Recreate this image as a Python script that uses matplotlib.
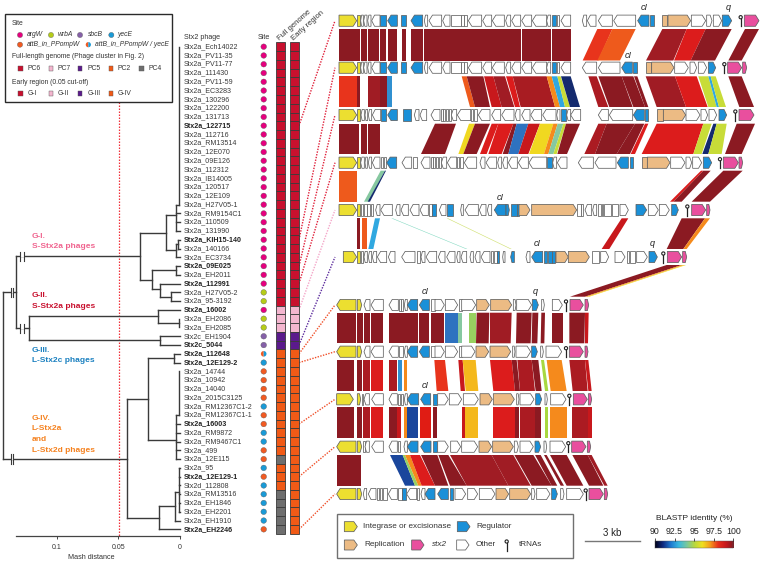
import matplotlib
matplotlib.use("Agg")
import matplotlib.pyplot as plt
import numpy as np
from matplotlib.patches import Polygon, Rectangle, Circle, Wedge
from matplotlib.colors import LinearSegmentedColormap

plt.rcParams['font.family'] = ['Liberation Sans', 'DejaVu Sans']

phages = ["Stx2a_Ech14022","Stx2a_PV11-35","Stx2a_PV11-77","Stx2a_111430","Stx2a_PV11-59","Stx2a_EC3283",
"Stx2a_130296","Stx2a_122200","Stx2a_131713","Stx2a_122715","Stx2a_112716","Stx2a_RM13514","Stx2a_12E070",
"Stx2a_09E126","Stx2a_112312","Stx2a_IB14005","Stx2a_120517","Stx2a_12E109","Stx2a_H27V05-1","Stx2a_RM9154C1",
"Stx2a_110509","Stx2a_131990","Stx2a_KIH15-140","Stx2a_140166","Stx2a_EC3734","Stx2a_09E025","Stx2a_EH2011",
"Stx2a_112991","Stx2a_H27V05-2","Stx2a_95-3192","Stx2a_16002","Stx2a_EH2086","Stx2a_EH2085","Stx2c_EH1904",
"Stx2c_5044","Stx2a_112648","Stx2a_12E129-2","Stx2a_14744","Stx2a_10942","Stx2a_14040","Stx2a_2015C3125",
"Stx2a_RM12367C1-2","Stx2a_RM12367C1-1","Stx2a_16003","Stx2a_RM9872","Stx2a_RM9467C1","Stx2a_499","Stx2a_12E115",
"Stx2a_95","Stx2a_12E129-1","Stx2d_112808","Stx2a_RM13516","Stx2a_EH1846","Stx2a_EH2201","Stx2a_EH1910","Stx2a_EH2246"]
bold = ["Stx2a_122715","Stx2a_KIH15-140","Stx2a_09E025","Stx2a_112991","Stx2a_16002","Stx2c_5044","Stx2a_112648",
"Stx2a_12E129-2","Stx2a_16003","Stx2a_12E129-1","Stx2a_EH2246"]
sites = "a"*28 + "ww" + "a" + "ww" + "ss" + "dy" + "oooo" + "y" + "oo" + "yy" + "oo" + "yoy" + "yyyy" + "oy"
full_genome = "6"*30 + "777" + "55" + "2"*12 + "4" + "222" + "44444"
early_region = "I"*30 + "JJJ" + "KK" + "L"*21

site_col = {'a':'#e6007e','w':'#b5cc18','s':'#8560a8','y':'#1a9ad6','o':'#f15a22'}
clust_col = {'6':'#c8102e','7':'#f4b6cf','5':'#5b1a8c','2':'#f15a16','4':'#6e6e6e','I':'#c8102e','J':'#f4b6cf','K':'#5b1a8c','L':'#f15a16'}

# tree: horizontal (row, d0, d1) and vertical (d, row0, row1)
tree_h = [(48,.1436,.0434),(29,.1436,.1333),(24.9,.1333,.0325),(33.1,.1333,.1225),
 (41.2,.0434,.0257),(54.7,.0434,.0168),(36.5,.0257,.0049),(45.8,.0257,.0035),(36,.0049,0),(37,.0049,0),
 (43,.0035,.0005),(47,.0035,0),(44,.0035,0),(45,.0035,0),(46,.0035,0),(48,.0035,0),
 (56,.0168,0),(53.3,.0168,.0041),(55,.0041,0),(51.7,.0041,.0005),(49,.0005,0),(50,.0005,0),(51,.0005,0),(52,.0005,0),(53,.0005,0),(54,.0005,0),
 (22.2,.0325,.0114),(27.6,.0325,.0230),(26.4,.0230,.0035),(26,.0035,0),(27,.0035,0),(28.6,.0230,.0163),(28,.0163,0),(29.5,.0163,.0076),(29,.0076,0),(30,.0076,0),
 (20.2,.0114,.0035),(24.2,.0114,.0035),(25,.0035,0),(23.5,.0035,.0014),(23,.0014,0),(24,.0014,0),(20,.0035,0),(21,.0035,0),(22,.0035,0),(19,.0035,.0005),
 (31.7,.1225,.0176),(34.4,.1225,.0163),(31,.0176,0),(32.5,.0176,.0005),(34,.0163,0),(35,.0163,0)]
tree_v = [(.1436,29,48),(.1333,24.9,33.1),(.0434,41.2,54.7),(.0257,36.5,45.8),(.0049,36,37),(.0035,43,48),(.0005,38,43),
 (.0168,53.3,56),(.0041,51.7,55),(.0005,49,54),(.0325,22.2,27.6),(.0230,26.4,28.6),(.0035,26,27),(.0163,28,29.5),(.0076,29,30),
 (.0114,20.2,24.2),(.0035,23.5,25),(.0014,23,24),(.0035,19,22),(.0005,1,19),(.1225,31.7,34.4),(.0176,31,32.5),(.0005,32,33),(.0163,34,35)]
tree_breaks = [(48,.1378,.1360),(29,.1378,.1360),(24.9,.1300,.1270),(33.1,.1300,.1270)]

# gene tracks: (start, end, direction, type)
g_common = [(57,110,1,'i'),(112,119,0,'i'),(122,130,-1,'o'),(131,141,-1,'o'),(143,153,-1,'o'),(155,180,-1,'o'),(181,199,0,'b'),(203,232,-1,'b'),
 (244,257,0,'b'),(273,308,-1,'b'),(313,323,-1,'o'),(327,365,-1,'o'),(368,390,-1,'o'),(392,422,0,'o'),(424,431,0,'o'),(433,441,0,'o'),(445,485,-1,'o'),
 (488,515,-1,'o'),(517,553,-1,'o'),(557,572,-1,'o'),(575,602,-1,'o'),(605,635,-1,'o'),(637,680,-1,'o'),(680,692,-1,'o'),(695,708,0,'b'),(710,718,0,'o'),(723,752,-1,'o')]
t1 = g_common + [(787,800,-1,'o'),(802,828,-1,'o'),(835,877,-1,'o'),(881,947,-1,'o'),(953,987,-1,'b'),(990,1002,0,'b'),(1027,1042,0,'r'),(1044,1112,1,'r'),
 (1114,1157,1,'o'),(1160,1176,1,'o'),(1180,1205,1,'o'),(1207,1235,1,'b'),(1273,1317,1,'s')]
t2 = g_common + [(787,830,-1,'o'),(835,900,-1,'o'),(905,937,-1,'b'),(940,952,0,'b'),(977,993,0,'r'),(995,1062,1,'r'),(1064,1105,1,'o'),(1110,1130,1,'o'),
 (1135,1160,1,'o'),(1165,1187,1,'b'),(1223,1265,1,'s'),(1268,1280,1,'s')]
t3 = [(57,110,1,'i'),(112,119,0,'i'),(123,133,-1,'o'),(135,143,-1,'o'),(145,155,-1,'o'),(157,182,-1,'o'),(182,199,0,'b'),(203,232,-1,'b'),(248,272,0,'b'),
 (283,297,-1,'o'),(300,320,-1,'o'),(333,360,-1,'o'),(362,368,0,'o'),(370,376,0,'o'),(378,384,0,'o'),(386,392,0,'o'),(394,410,-1,'o'),(412,452,-1,'o'),(454,460,0,'o'),
 (462,472,0,'o'),(475,510,-1,'o'),(515,542,-1,'o'),(545,582,-1,'o'),(585,600,-1,'o'),(605,630,-1,'o'),(632,665,-1,'o'),(668,708,-1,'o'),(710,720,-1,'o'),(723,738,0,'b'),(740,752,-1,'o'),(752,782,-1,'o'),
 (835,865,-1,'o'),(868,938,-1,'o'),(940,973,-1,'b'),(975,985,0,'b'),(1010,1028,0,'r'),(1030,1097,1,'r'),(1098,1140,1,'o'),(1143,1163,1,'o'),(1167,1190,1,'o'),(1197,1220,1,'b'),(1257,1302,1,'s')]
t4 = [(57,110,1,'i'),(112,119,0,'i'),(122,133,-1,'o'),(135,142,-1,'o'),(145,155,-1,'o'),(157,180,-1,'o'),(182,190,0,'o'),(192,198,0,'o'),(200,230,-1,'b'),(246,275,-1,'o'),(278,290,0,'o'),
 (303,330,-1,'o'),(332,338,0,'o'),(340,346,0,'o'),(348,354,0,'o'),(356,362,0,'o'),(364,380,-1,'o'),(382,410,-1,'o'),(412,418,0,'o'),(420,430,0,'o'),(433,470,-1,'o'),
 (480,495,-1,'o'),(498,530,-1,'o'),(533,545,-1,'o'),(548,562,-1,'o'),(565,592,-1,'o'),(595,625,-1,'o'),(627,680,-1,'o'),(682,696,0,'b'),(698,710,-1,'o'),(712,741,-1,'o'),
 (775,820,-1,'o'),(825,888,-1,'o'),(892,925,-1,'b'),(930,940,0,'b'),(965,980,0,'r'),(982,1050,1,'r'),(1052,1095,1,'o'),(1098,1115,1,'o'),(1118,1145,1,'o'),(1150,1175,1,'b'),(1210,1255,1,'s'),(1257,1268,1,'s')]
t5 = [(57,110,1,'i'),(112,119,0,'i'),(123,130,0,'o'),(132,140,0,'o'),(142,150,0,'o'),(152,160,0,'o'),(167,180,-1,'o'),(182,217,-1,'o'),(227,240,-1,'o'),(243,265,-1,'o'),(270,297,-1,'o'),(300,325,-1,'o'),
 (327,335,0,'o'),(337,347,0,'b'),(358,378,-1,'o'),(382,398,0,'b'),(422,430,-1,'o'),(435,475,-1,'o'),(478,498,-1,'o'),(502,515,-1,'o'),(523,558,-1,'b'),(558,568,1,'b'),(573,590,0,'b'),(590,597,0,'b'),
 (597,630,1,'r'),(635,770,1,'r'),(770,782,0,'o'),(782,790,0,'o'),(795,815,-1,'o'),(818,830,-1,'o'),(835,842,0,'o'),(845,850,0,'o'),(852,872,0,'o'),(875,895,0,'o'),(900,925,1,'o'),
 (948,980,1,'b'),(985,1015,1,'o'),(1018,1048,1,'o'),(1055,1075,1,'b'),(1115,1157,1,'s'),(1160,1170,1,'s')]
t6 = [(70,110,1,'i'),(112,119,0,'i'),(123,130,0,'o'),(132,142,-1,'o'),(145,155,-1,'o'),(157,170,-1,'o'),(172,200,-1,'o'),(205,225,-1,'o'),(245,285,-1,'o'),(290,300,0,'o'),(303,315,-1,'o'),(318,350,-1,'o'),
 (355,375,-1,'o'),(380,405,-1,'o'),(410,420,-1,'o'),(423,440,-1,'o'),(450,460,-1,'o'),(465,480,-1,'o'),(483,510,-1,'o'),(512,520,0,'o'),(522,530,0,'o'),(530,537,0,'b'),(548,555,-1,'o'),(572,583,-1,'b'),
 (618,630,-1,'o'),(635,668,-1,'b'),(672,680,0,'b'),(685,695,0,'b'),(697,705,0,'b'),(708,745,1,'r'),(745,808,1,'r'),(815,838,0,'o'),(842,866,1,'o'),(885,915,1,'o'),(920,927,0,'o'),(930,945,0,'o'),(950,982,1,'o'),(987,1012,1,'b'),(1042,1085,1,'s'),(1088,1100,1,'s')]
t7 = [(50,108,-1,'i'),(112,125,1,'i'),(132,150,-1,'o'),(153,190,-1,'o'),(207,235,-1,'o'),(237,243,0,'o'),(243,250,0,'o'),(253,262,-1,'o'),(262,293,-1,'b'),(298,328,-1,'b'),(333,345,0,'o'),(345,373,1,'o'),
 (376,413,1,'o'),(418,425,0,'o'),(425,467,1,'o'),(470,508,1,'r'),(512,575,1,'r'),(580,588,1,'o'),(590,635,1,'o'),(637,655,1,'b'),(665,673,1,'o'),(697,727,1,'o'),(750,790,1,'s'),(795,806,1,'s')]
t8 = [(50,108,-1,'i'),(112,125,1,'i'),(132,150,-1,'o'),(153,190,-1,'o'),(207,235,-1,'o'),(237,250,0,'o'),(253,262,-1,'o'),(262,293,-1,'b'),(298,328,-1,'b'),(333,345,0,'o'),(345,373,1,'o'),(376,413,1,'o'),
 (418,425,0,'o'),(425,465,1,'o'),(468,506,1,'r'),(510,572,1,'r'),(578,585,1,'o'),(588,632,1,'o'),(635,652,1,'b'),(662,670,1,'o'),(678,725,1,'o'),(748,790,1,'s'),(795,804,1,'s')]
t9 = [(50,100,1,'i'),(112,122,1,'i'),(125,130,0,'o'),(132,148,-1,'o'),(155,190,-1,'o'),(207,232,-1,'o'),(235,240,0,'o'),(242,250,0,'o'),(253,262,-1,'o'),(262,296,-1,'b'),(302,332,-1,'b'),(338,350,0,'b'),(353,385,1,'o'),
 (388,425,1,'o'),(430,475,1,'o'),(480,517,1,'r'),(520,583,1,'r'),(590,597,1,'o'),(600,642,1,'o'),(647,665,1,'b'),(675,682,1,'o'),(692,738,1,'o'),(760,802,1,'s'),(805,815,1,'s')]
t10 = [(50,108,-1,'i'),(112,125,1,'i'),(130,135,0,'o'),(135,148,-1,'o'),(155,190,-1,'o'),(207,232,-1,'o'),(235,240,0,'o'),(252,262,-1,'o'),(262,294,-1,'b'),(302,333,-1,'b'),(338,350,0,'b'),(353,385,1,'o'),(392,422,1,'o'),
 (425,473,1,'o'),(477,515,1,'r'),(518,580,1,'r'),(583,595,1,'o'),(600,640,1,'o'),(645,662,1,'b'),(672,680,1,'o'),(690,737,1,'o'),(755,798,1,'s'),(802,812,1,'s')]
t11 = [(50,108,-1,'i'),(112,125,1,'i'),(130,140,-1,'o'),(145,168,-1,'o'),(172,178,0,'k'),(180,186,0,'k'),(190,200,0,'o'),(205,232,-1,'o'),(235,245,0,'o'),(245,258,0,'b'),(260,290,-1,'o'),(292,298,0,'o'),(303,315,-1,'o'),
 (315,345,-1,'b'),(353,385,-1,'b'),(390,400,0,'b'),(405,437,1,'o'),(443,473,1,'o'),(478,525,1,'o'),(528,566,1,'r'),(569,632,1,'r'),(635,645,1,'o'),(650,690,1,'o'),(695,712,1,'b'),(722,732,1,'o'),(740,790,1,'o'),(807,850,1,'s'),(853,863,1,'s')]
tracks = [t1,t2,t3,t4,t5,t6,t7,t8,t9,t10,t11]
track_y = [20.7,67.7,115,162.7,210,257,305,351.7,399.3,446.7,494]
trna_x = [1262,1213,1246,1200,1102,1030,738,738,748,745,797]
track_notes = [(972,8,'cI'),(1224,8,'q'),(925,55,'cI'),(540,197,'cI'),(653,244,'cI'),(998,244,'q'),(316,291.7,'cI'),(645,292,'q'),(317,386,'cI')]

# ribbons: (top0, top1, bottom0, bottom1, colour key)
ribbons = [
 (29,60.5,[(57,119,57,119,'D'),(123,141,123,141,'D'),(143,178,143,178,'D'),(180,199,180,199,'D'),(203,232,203,232,'D'),(245,257,245,257,'D'),(273,310,273,310,'D'),(313,392,313,392,'D'),(392,445,392,445,'D'),(445,515,445,515,'D'),(517,603,517,603,'D'),(605,692,605,692,'D'),(695,752,695,752,'D'),
  (832,877,788,835,'E'),(877,947,832,900,'O'),(1027,1100,978,1060,'M'),(1100,1157,1062,1112,'R'),(1157,1235,1112,1185,'D'),(1275,1317,1225,1265,'D')]),
 (76.3,107,[(57,111,57,111,'E'),(112,119,112,119,'D'),(143,180,143,180,'M'),(180,200,180,200,'D'),(202,217,202,217,'B2'),(425,440,450,465,'O'),(440,490,465,510,'D'),(492,520,515,545,'C'),(520,555,545,583,'M'),(558,578,585,600,'R'),(578,680,602,705,'M2'),(680,695,705,720,'A'),(695,712,720,735,'H'),(712,722,735,750,'L'),(723,752,750,780,'N'),
  (805,830,835,865,'C2'),(835,905,868,938,'D'),(905,940,940,975,'D'),(942,952,975,985,'D'),(977,1065,1010,1098,'M'),(1065,1130,1098,1163,'R'),(1135,1165,1165,1190,'L'),(1165,1172,1190,1197,'H'),(1172,1187,1197,1218,'L'),(1225,1265,1258,1302,'D')]),
 (123.7,154,[(57,118,57,118,'D'),(123,140,123,140,'D'),(143,180,143,180,'D'),(345,408,303,375,'D'),(447,465,415,430,'Y'),(465,510,430,470,'D'),(515,535,480,500,'R'),(535,580,505,545,'R'),(580,590,548,565,'D'),(590,625,565,595,'B'),(625,660,595,625,'C'),(660,700,627,672,'Y'),(700,713,672,685,'A'),(713,730,685,700,'G'),(730,738,700,710,'L'),(738,780,712,741,'D'),
  (835,860,793,825,'C2'),(860,945,825,890,'D'),(945,973,890,930,'D'),(975,985,932,945,'R'),(1010,1150,965,1120,'R'),(1150,1175,1120,1145,'L'),(1180,1190,1147,1165,'N'),(1190,1220,1165,1205,'L'),(1250,1305,1215,1265,'D')]),
 (170.7,201.7,[(57,110,57,110,'O'),(182,195,132,145,'G'),(195,198,143,150,'N'),(1143,1150,1050,1060,'R'),(1150,1172,1060,1085,'D'),(1210,1268,1115,1170,'D')]),
 (218.3,249,[(112,120,112,120,'D'),(125,140,125,140,'O'),(165,180,145,160,'H'),(214,218,438,442,'G3'),(380,384,571,575,'L3'),(905,925,845,868,'C'),(1085,1155,1040,1090,'D'),(1155,1170,1090,1100,'A')]),
 (265,296.7,[(1040,1085,750,795,'D'),(1085,1092,795,802,'A'),(1092,1098,802,808,'Y')]),
 (312.7,343.3,[(50,108,50,108,'D'),(112,130,112,130,'D'),(132,150,132,150,'D'),(153,190,153,190,'D'),(207,262,207,262,'D'),(262,293,262,293,'D'),(298,328,298,328,'D'),(333,373,333,373,'D'),(376,413,376,413,'B'),(415,425,415,425,'G'),(448,468,448,468,'G2'),(470,508,468,506,'D'),(510,575,510,572,'M'),(590,635,588,632,'D'),(637,655,635,652,'D'),(664,675,662,673,'D'),(697,730,697,730,'D'),(748,795,748,793,'D'),(795,806,795,804,'C')]),
 (360,391,[(50,102,50,102,'D'),(110,125,110,125,'D'),(130,150,130,150,'C2'),(152,190,152,190,'R'),(207,232,207,232,'C2'),(233,245,233,245,'B2'),(252,262,252,262,'A'),(343,375,350,385,'E'),(415,428,422,435,'C'),(428,467,437,475,'Y2'),(510,575,520,585,'R'),(575,590,585,600,'D'),(592,635,600,645,'C2'),(635,655,647,665,'D'),(663,672,675,685,'L2'),(680,725,692,740,'A'),(748,795,758,803,'C2'),(795,805,805,815,'C')]),
 (407.3,438.3,[(50,102,50,102,'D'),(110,125,110,125,'D'),(130,150,130,150,'C2'),(152,190,152,190,'R'),(207,232,207,232,'D'),(232,242,232,242,'C'),(252,262,252,262,'A'),(262,294,262,294,'K'),(300,332,300,332,'R2'),(338,350,338,350,'D'),(425,435,425,435,'C'),(435,475,435,475,'Y2'),(520,585,520,585,'R'),(585,597,585,597,'D'),(600,645,600,645,'C2'),(645,662,645,662,'D'),(674,684,674,684,'L2'),(690,740,690,740,'A'),(757,803,757,803,'C2'),(805,815,805,815,'C')]),
 (455,485.7,[(50,110,50,110,'D'),(112,123,112,123,'D'),(210,248,255,285,'K'),(248,255,285,295,'G2'),(255,270,295,305,'A'),(270,300,305,345,'R'),(303,352,345,385,'D'),(355,385,390,440,'D'),(390,515,440,565,'M'),(515,580,565,632,'M'),(583,640,635,695,'D'),(645,662,695,712,'D'),(672,680,722,732,'D'),(690,740,740,790,'D'),(757,803,807,850,'D'),(803,815,853,863,'M')]),
]
rib_col = {'D':'#8b1a22','M':'#a01c24','M2':'#a81c22','C':'#c8181c','C2':'#ab1b22','R':'#dc1c1c','R2':'#e01c14','E':'#e8341c','O':'#ee5a1c','A':'#f58a1c','Y':'#f0d820','Y2':'#f4b81c',
 'L':'#c8dc38','L2':'#a8d840','L3':'#d0e070','G':'#86c8a0','G2':'#98d060','G3':'#80d8c0','H':'#30a8e0','B':'#2e72c0','B2':'#3090d0','K':'#1a469c','N':'#142a6e'}
gene_col = {'i':'#ecdf30','b':'#1a90d8','r':'#ecbb84','s':'#e94f9e','o':'#ffffff','k':'#ffffff'}

id_ticks = [90,92.5,95,97.5,100]
id_colors = ['#000018','#102a80','#1f7ad0','#38b8e0','#78c8a0','#b8d840','#f0e020','#f59a1c','#e8301c','#c8181c','#7e1a22']

fig = plt.figure(figsize=(7.67,5.62),dpi=100)
ax = fig.add_axes([0,0,1,1])
ax.set_xlim(0,767); ax.set_ylim(562,0); ax.axis('off')
FS = 5.15
TXT = '#333333'
def zx(v): return 320+v/3
def ry(r): return 46.7+(r-1)*8.775

# mash cut-off
ax.plot([118.5,118.5],[102,536],color='#f0303a',lw=0.9,ls=(0,(1.2,1.2)),zorder=1)

# labels, sites, clusters
ax.text(184,37.3,"Stx2 phage",fontsize=FS,color=TXT,va='center')
ax.text(263.7,37.5,"Site",fontsize=FS,color=TXT,va='center',ha='center')
ax.text(279,39,"Full genome",fontsize=5.5,color=TXT,rotation=42,rotation_mode='anchor',ha='left',va='center')
ax.text(293,39,"Early region",fontsize=5.5,color=TXT,rotation=42,rotation_mode='anchor',ha='left',va='center')
for i,(p,s,f,e) in enumerate(zip(phages,sites,full_genome,early_region)):
    y=ry(i+1)
    ax.text(184,y,p,fontsize=FS,color='#222222' if p in bold else '#3a3a3a',va='center',fontweight='bold' if p in bold else 'normal')
    if s=='d':
        ax.add_patch(Wedge((263.7,y),2.8,90,270,fc=site_col['o'],ec='none',zorder=3))
        ax.add_patch(Wedge((263.7,y),2.8,270,90,fc=site_col['y'],ec='none',zorder=3))
    else:
        ax.add_patch(Circle((263.7,y),2.8,fc=site_col[s],ec='#555555',lw=0.25,zorder=3))
    for x0,k in ((276,f),(290,e)):
        ax.add_patch(Rectangle((x0,y-4.39),9,8.775,fc=clust_col[k],ec='#3a3a3a',lw=0.6,zorder=3))

# group labels
for ys,txts,c in (((236,246.7),("G-I.","S-Stx2a phages"),'#f0648f'),((295.3,306),("G-II.","S-Stx2a phages"),'#c8102e'),
                  ((350.7,361),("G-III.","L-Stx2c phages"),'#1a80c0'),((418.7,429,439.3,450),("G-IV.","L-Stx2a","and","L-Stx2d phages"),'#f58220')):
    for y,t in zip(ys,txts):
        ax.text(31.7,y,t,fontsize=6.05,color=c,va='center',fontweight='bold')

# dotted connectors
con_rows = [phages.index(b)+1 for b in bold]
con_cols = ['#e0203a']*4+['#f4a6c8','#5b2a9c']+['#f0502a']*5
for r,ty,c in zip(con_rows,track_y,con_cols):
    ax.plot([299,335],[ry(r),ty],color=c,lw=1.0,ls=(0,(1,1)),zorder=2)

# ribbons
for y0,y1,segs in ribbons:
    for a0,a1,b0,b1,k in segs:
        ax.add_patch(Polygon([(zx(a0),y0),(zx(a1),y0),(zx(b1),y1),(zx(b0),y1)],fc=rib_col[k],ec='none',zorder=2))

# genes
def gene(x0,x1,d,y,col,h=5.6,edge='#606060',z=4):
    a,b=zx(x0),zx(x1)
    hl=min(3.5,(b-a)*0.35)
    if d>0: pts=[(a,y-h),(b-hl,y-h),(b,y),(b-hl,y+h),(a,y+h)]
    elif d<0: pts=[(b,y-h),(a+hl,y-h),(a,y),(a+hl,y+h),(b,y+h)]
    else: pts=[(a,y-h),(b,y-h),(b,y+h),(a,y+h)]
    ax.add_patch(Polygon(pts,fc=col,ec=edge,lw=0.55,zorder=z))
def trna(x,y):
    px=zx(x)
    ax.plot([px,px],[y-3,y+5.5],color='#222222',lw=0.9,zorder=5)
    ax.add_patch(Circle((px,y-3.5),1.6,fc='white',ec='#222222',lw=0.8,zorder=6))
for tr,y,tx in zip(tracks,track_y,trna_x):
    for x0,x1,d,t in tr:
        gene(x0,x1,d,y,gene_col[t])
    trna(tx,y)
for x,y,t in track_notes:
    ax.text(zx(x),y,t,fontsize=6.5,style='italic',ha='center',va='center',color='#222222')

# upper legend
ax.add_patch(Rectangle((5,14.3),166.7,87.4,fc='white',ec='#2a2a2a',lw=1.0,zorder=5))
LF=4.9
def L(x,y,t,**k): ax.text(x/3,y/3,t,fontsize=LF,color=TXT,va='center',zorder=6,**k)
L(35,70,"Site"); L(35,170,"Full-length genome (Phage cluster in Fig. 2)"); L(35,248,"Early region (0.05 cut-off)")
for dx,c,t,tx,zy in ((60,'a','argW',82,105),(153,'w','wrbA',172,105),(240,'s','sbcB',263,105),(334,'y','yecE',353,105),(60,'o','attB_in_PPompW',82,134)):
    ax.add_patch(Circle((dx/3,zy/3),2.6,fc=site_col[c],ec='#555555',lw=0.25,zorder=6))
    L(tx,zy,t,style='italic')
ax.add_patch(Wedge((265/3,134/3),2.6,90,270,fc=site_col['o'],ec='none',zorder=6))
ax.add_patch(Wedge((265/3,134/3),2.6,270,90,fc=site_col['y'],ec='none',zorder=6))
L(286,134,"attB_in_PPompW / yecE",style='italic')
for sx,k,t,tx in ((62,'6','PC6',82),(153,'7','PC7',173),(240,'5','PC5',262),(333,'2','PC2',353),(425,'4','PC4',445)):
    ax.add_patch(Rectangle((sx/3-2.4,206/3-2.4),4.8,4.8,fc=clust_col[k],ec='#555555',lw=0.3,zorder=6)); L(tx,206,t)
for sx,k,t,tx in ((62,'I','G-I',82),(153,'J','G-II',173),(240,'K','G-III',262),(333,'L','G-IV',353)):
    ax.add_patch(Rectangle((sx/3-2.4,281/3-2.4),4.8,4.8,fc=clust_col[k],ec='#555555',lw=0.3,zorder=6)); L(tx,281,t)

# lower legend
ax.add_patch(Rectangle((337.3,514),235.4,43.7,fc='white',ec='#707070',lw=1.0,zorder=3))
y1,y2=420+320/3,420+375/3
for x0,x1,y,c in ((73,112,y1,'i'),(412,450,y1,'b'),(73,112,y2,'r'),(275,312,y2,'s'),(410,447,y2,'o')):
    gene(x0,x1,1,y,gene_col[c],h=5)
trna(560,y2)
for x,y,t,st in ((130,y1,"Integrase or excisionase",'normal'),(470,y1,"Regulator",'normal'),(132,y2,"Replication",'normal'),(335,y2,"stx2",'italic'),(468,y2,"Other",'normal'),(597,y2,"tRNAs",'normal')):
    ax.text(zx(x),y,t,fontsize=5.9,color=TXT,va='center',style=st)

# scale bar
ax.plot([zx(795),zx(960)],[420+362/3]*2,color='#777777',lw=1.0)
ax.text(zx(877),420+338/3,"3 kb",fontsize=7,color='#222222',ha='center',va='center')

# colour bar
ax.text(zx(1122),420+297/3,"BLASTP identity (%)",fontsize=6.0,color='#222222',ha='center',va='center')
cax = fig.add_axes([zx(1005)/767,1-(420+385/3)/562,(235/3)/767,(23/3)/562])
cm = LinearSegmentedColormap.from_list('blastp',id_colors)
cax.imshow(np.linspace(0,1,256)[None,:],aspect='auto',cmap=cm,extent=(90,100,0,1))
cax.set_yticks([]); cax.set_xticks(id_ticks); cax.set_xticklabels([str(t) for t in id_ticks],fontsize=6.3,color='#222222')
cax.xaxis.tick_top(); cax.tick_params(axis='x',length=2,width=0.5,pad=1.5,direction='out')
for s in cax.spines.values(): s.set_linewidth(0.3); s.set_color('#555555')

# tree
tax = fig.add_axes([0,1-536/562,182/767,(536-10)/562])
tax.set_xlim((180-0)/1230,(180-182)/1230)
tax.set_ylim((536-46.7)/8.775+1,(10-46.7)/8.775+1)
tax.patch.set_alpha(0)
TC='#3a3a3a'
for r,d0,d1 in tree_h: tax.plot([d0,d1],[r,r],color=TC,lw=1.0,solid_capstyle='projecting')
for d,r0,r1 in tree_v: tax.plot([d,d],[r0,r1],color=TC,lw=1.0,solid_capstyle='projecting')
for r,d0,d1 in tree_breaks:
    tax.plot([d0,d1],[r,r],color='white',lw=1.6,solid_capstyle='butt')
    for d in (d0,d1): tax.plot([d,d],[r-0.55,r+0.55],color=TC,lw=0.8)
for s in ('top','left','right'): tax.spines[s].set_visible(False)
tax.spines['bottom'].set_bounds(0,.1333); tax.spines['bottom'].set_color('#444444'); tax.spines['bottom'].set_linewidth(0.9)
tax.set_yticks([]); tax.set_xticks([0.1,0.05,0]); tax.set_xticklabels(['0.1','0.05','0'],fontsize=5.0,color=TXT)
tax.tick_params(axis='x',length=2.5,width=0.7,pad=3,color='#444444')
tax.set_xlabel("Mash distance",fontsize=5.25,color=TXT,labelpad=2.5)

fig.savefig("out.png",dpi=100)
